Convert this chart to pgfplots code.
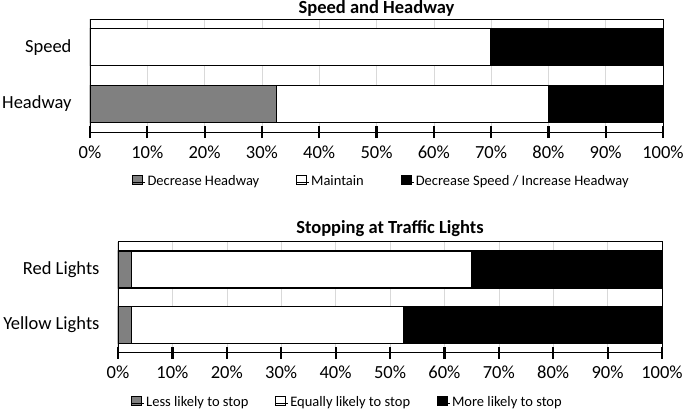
\documentclass[border=0pt]{standalone}
\usepackage{pgfplots}
\pgfplotsset{compat=1.18}
\usepackage{fontspec}
\setmainfont{Carlito}
\definecolor{bargray}{RGB}{128,128,128}
\definecolor{gridgray}{RGB}{217,217,217}
\pgfplotsset{
  mybar/.style={
    xbar stacked,
    scale only axis,
    xmin=0, xmax=100,
    ymin=-0.5, ymax=1.5,
    ytick={0,1},
    bar width=37pt,
    xtick={0,10,...,100},
    xtick pos=bottom,
    xticklabel={\pgfmathprintnumber{\tick}\%},
    /pgf/number format/assume math mode=true,
    xmajorgrids,
    grid style={gridgray, line width=0.6pt},
    axis line style={line width=0.8pt},
    x axis line style={line width=2.6pt},
    tick align=center,
    major tick length=12pt,
    xtick style={line width=2.2pt, black},
    ytick style={draw=none},
    tick label style={font=\fontsize{18.5}{20}\selectfont},
    xticklabel style={yshift=-4pt},
    yticklabel style={xshift=-9pt},
    title style={font=\bfseries\fontsize{18.5}{20}\selectfont, at={(0.5,1)}, anchor=base},
    legend style={draw=none, fill=none, legend columns=3,
      font=\fontsize{14.5}{16}\selectfont,
      nodes={text height=1.6ex, text depth=0.4ex, inner sep=1.5pt}},
    legend cell align=left,
    every axis plot/.append style={draw=black, line width=1.4pt},
    legend image code/.code={\draw[#1, line width=0.8pt] (0pt,-1.8pt) rectangle (10pt,7.2pt);
      \path (0pt,0pt) -- (12.5pt,0pt);},
  }
}
\begin{document}
\begin{tikzpicture}
\useasboundingbox (0,0) rectangle (685pt,-410pt);
\begin{axis}[mybar,
  at={(90pt,-132pt)}, anchor=south west,
  width=573pt, height=113pt,
  yticklabels={Headway,Speed},
  title={Speed and Headway},
  title style={yshift=-0.5pt},
  legend style={at={(0.508,-0.44)}, anchor=center,
    /tikz/every even column/.append style={column sep=35pt}},
]
\addplot[fill=bargray] coordinates {(32.5,0) (0,1)};
\addplot[fill=white] coordinates {(47.5,0) (70,1)};
\addplot[fill=black] coordinates {(20,0) (30,1)};
\legend{Decrease Headway, Maintain, Decrease Speed / Increase Headway}
\draw[line width=2pt] (rel axis cs:0,0) -- (rel axis cs:0,1);
\end{axis}
\begin{axis}[mybar,
  at={(118pt,-352.7pt)}, anchor=south west,
  width=544pt, height=111pt,
  yticklabels={Yellow Lights,Red Lights},
  title={Stopping at Traffic Lights},
  title style={yshift=2.5pt},
  legend style={at={(0.421,-0.45)}, anchor=center,
    /tikz/every even column/.append style={column sep=25pt}},
]
\addplot[fill=bargray] coordinates {(2.5,0) (2.5,1)};
\addplot[fill=white] coordinates {(50,0) (62.5,1)};
\addplot[fill=black] coordinates {(47.5,0) (35,1)};
\legend{Less likely to stop, Equally likely to stop, More likely to stop}
\draw[line width=2pt] (rel axis cs:0,0) -- (rel axis cs:0,1);
\end{axis}
\end{tikzpicture}
\end{document}
